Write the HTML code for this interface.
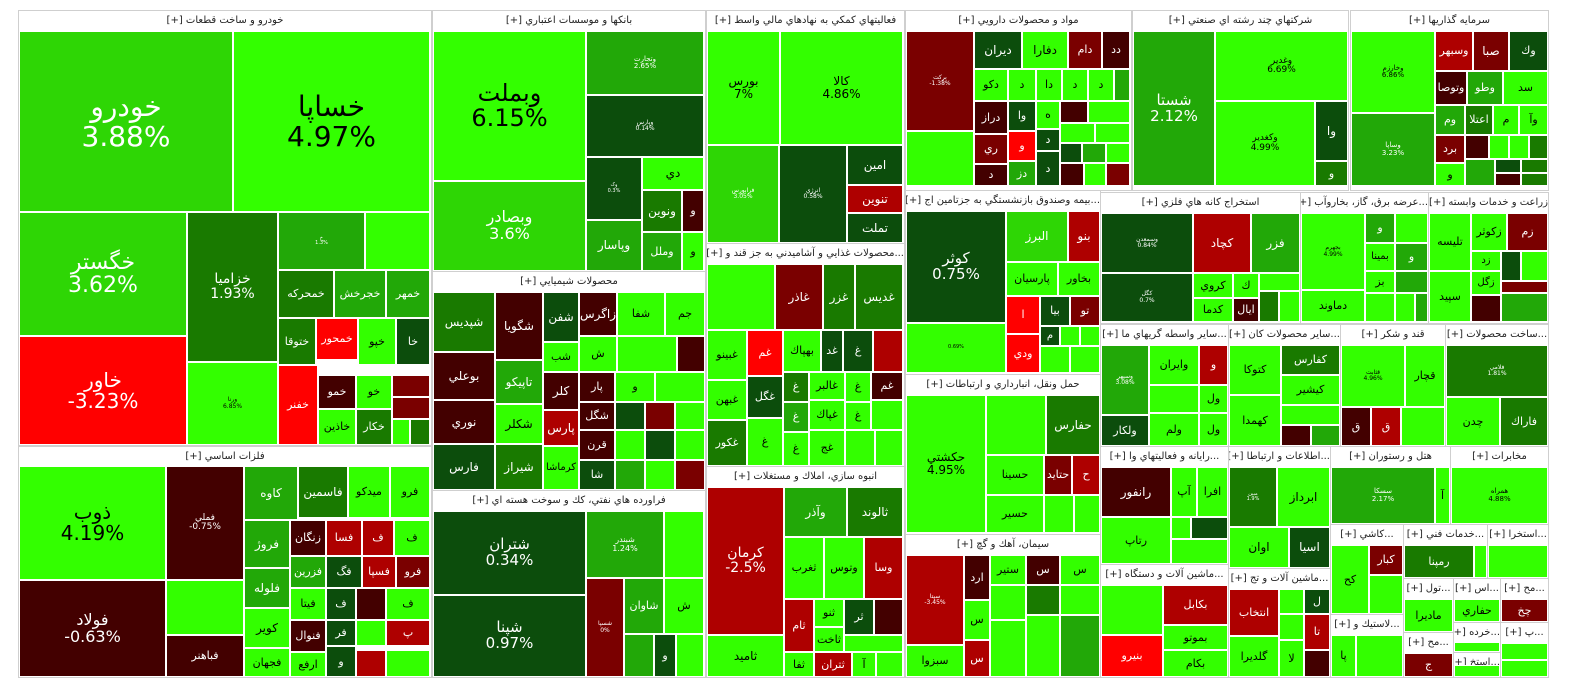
<!DOCTYPE html>
<html><head><meta charset="utf-8">
<style>
html,body{margin:0;padding:0;background:#fff;width:1584px;height:698px;overflow:hidden;font-family:"DejaVu Sans","Liberation Sans",sans-serif;}
#map{position:relative;width:1584px;height:698px;}
.sec{position:absolute;box-sizing:border-box;border:1px solid #cfcfcf;background:#fff;}
.hdr{position:absolute;left:0;right:0;top:0;height:19px;line-height:19px;font-size:10px;text-align:center;color:#222;white-space:nowrap;overflow:hidden;direction:rtl;}
.cell{position:absolute;box-sizing:border-box;border:1px solid #fff;display:flex;flex-direction:column;align-items:center;justify-content:center;text-align:center;overflow:hidden;line-height:1.05;white-space:nowrap;}
</style></head>
<body>
<div id="map"></div>
<script>
// sector frames: x, y, w, h, title
const sectorTitles = ["خودرو و ساخت قطعات [+]","فلزات اساسي [+]","بانكها و موسسات اعتباري [+]","محصولات شيميايي [+]","فراورده هاي نفتي، كك و سوخت هسته اي [+]","فعاليتهاي كمكي به نهادهاي مالي واسط [+]","...محصولات غذايي و آشاميدني به جز قند و [+]","انبوه سازي، املاك و مستغلات [+]","مواد و محصولات دارويي [+]","...بيمه وصندوق بازنشستگي به جزتامين اج [+]","حمل ونقل، انبارداري و ارتباطات [+]","سيمان، آهك و گچ [+]","شركتهاي چند رشته اي صنعتي [+]","سرمايه گذاريها [+]","استخراج كانه هاي فلزي [+]","...عرضه برق، گاز، بخاروآب [+]","زراعت و خدمات وابسته [+]","...ساير واسطه گريهاي ما [+]","...ساير محصولات كان [+]","قند و شكر [+]","...ساخت محصولات [+]","...رايانه و فعاليتهاي وا [+]","...اطلاعات و ارتباطا [+]","هتل و رستوران [+]","مخابرات [+]","...ماشين آلات و دستگاه [+]","...ماشين آلات و تج [+]","...كاشي [+]","...خدمات فني [+]","...استخرا [+]","...لاستيك و [+]","...تول [+]","...اس [+]","...مح [+]","...مح [+]","...خرده [+]","...استخ [+]","...پ [+]"];
const sectorBoxes = [[18,10,413,435],[18,446,413,231],[432,10,273,261],[432,271,273,219],[432,490,273,187],[706,10,198,233],[706,243,198,223],[706,466,198,211],[905,10,226,180],[905,190,195,184],[905,374,195,160],[905,534,195,143],[1132,10,216,180],[1350,10,198,180],[1100,192,200,131],[1300,192,128,131],[1428,192,120,131],[1100,324,128,122],[1228,324,112,122],[1340,324,105,122],[1445,324,103,122],[1100,446,128,118],[1228,446,102,122],[1330,446,120,78],[1450,446,98,78],[1100,564,128,113],[1228,568,102,109],[1330,524,73,90],[1403,524,84,54],[1487,524,61,54],[1330,614,73,63],[1403,578,50,54],[1453,578,47,44],[1500,578,48,44],[1403,632,50,45],[1453,622,47,30],[1453,652,47,25],[1500,622,48,55]];
// cells: x,y,w,h,symbol,percent,colour-class,font-size
const cells = [
[19,31,214,181,"خودرو","3.88%","g",28],[233,31,197,181,"خساپا","4.97%","G",28],
[19,212,168,124,"خگستر","3.62%","g",22],[19,336,168,109,"خاور","-3.23%","R",20],
[187,212,91,150,"خزاميا","1.93%","d",14],[187,362,91,83,"ورنا","6.85%","G",6],
[278,212,87,58,"خ","1.3%","m",5],[365,212,65,58,"","","G",5],
[278,270,56,48,"خمحركه","","d",11],[334,270,52,48,"خجرخش","","m",11],[386,270,44,48,"خمهر","","m",11],
[278,318,38,47,"ختوقا","","d",11],[316,318,42,42,"خمحور","","R",11],[358,318,38,47,"خپو","","G",11],[396,318,34,47,"خا","","D",11],
[278,365,40,80,"خفنر","","R",11],[318,375,38,34,"خمو","","K",11],[356,375,36,34,"خو","","G",11],[392,375,38,22,"","","k",9],[392,397,38,22,"","","k",9],
[318,409,38,36,"خاذين","","G",11],[356,409,36,36,"خكار","","d",11],[392,419,18,26,"","","G",9],[410,419,20,26,"","","d",9],
[19,466,147,114,"ذوب","4.19%","G",20],[19,580,147,97,"فولاد","-0.63%","K",16],
[166,466,78,114,"فملي","-0.75%","K",9],[166,580,78,55,"","","G",5],[166,635,78,42,"فباهنر","","K",11],
[244,466,54,54,"كاوه","","m",12],[298,466,50,52,"فاسمين","","d",12],[348,466,42,52,"ميدكو","","G",11],[390,466,40,52,"فرو","","G",11],
[244,520,46,48,"فروژ","","m",12],[244,568,46,40,"فلوله","","m",12],[244,608,46,40,"كوير","","G",12],[244,648,46,29,"فجهان","","G",11],
[290,520,36,36,"زنگان","","K",11],[326,520,36,36,"فسا","","r",11],[362,520,32,36,"ف","","r",11],[394,520,36,36,"ف","","G",11],
[290,556,36,32,"فزرين","","m",11],[326,556,36,32,"فگ","","D",11],[362,556,34,32,"فسپا","","r",11],[396,556,34,32,"فرو","","k",11],
[290,588,36,32,"فيتا","","G",11],[326,588,30,32,"ف","","D",11],[356,588,30,32,"","","K",9],[386,588,44,32,"ف","","G",11],
[290,620,36,32,"فنوال","","K",11],[326,620,30,26,"فر","","D",11],[356,620,30,26,"","","G",9],[386,620,44,26,"پ","","r",11],
[290,652,36,25,"ارفع","","G",11],[326,646,30,31,"و","","D",11],[356,650,30,27,"","","r",9],[386,650,44,27,"","","G",9],
[433,31,153,150,"وبملت","6.15%","G",24],[433,181,153,90,"وبصادر","3.6%","g",16],
[586,31,118,64,"وتجارت","2.65%","m",7],[586,95,118,62,"وپارس","0.14%","D",6],
[586,157,56,63,"وک","0.3%","D",5],[642,157,62,33,"دي","","G",12],[642,190,40,42,"ونوين","","d",12],[682,190,22,42,"و","","K",11],
[586,220,56,51,"وپاسار","","m",12],[642,232,40,39,"وملل","","m",11],[682,232,22,39,"و","","G",11],
[433,292,62,60,"شپديس","","d",12],[495,292,48,68,"شگويا","","K",12],[543,292,36,50,"شفن","","D",12],[579,292,38,44,"زاگرس","","K",12],[617,292,48,44,"شفا","","G",11],[665,292,40,44,"جم","","G",11],
[433,352,62,48,"بوعلي","","K",12],[495,360,48,44,"تاپيكو","","m",12],[543,342,36,30,"شب","","G",11],[579,336,38,36,"ش","","G",11],[617,336,60,36,"","","G",9],[677,336,28,36,"","","K",9],
[433,400,62,44,"نوري","","K",12],[495,404,48,40,"شكلر","","G",12],[543,372,36,38,"كلر","","K",12],[579,372,36,30,"پار","","K",11],[615,372,40,30,"و","","G",11],[655,372,50,30,"","","G",9],
[579,402,36,28,"شگل","","K",11],[615,402,30,28,"","","D",9],[645,402,30,28,"","","k",9],[675,402,30,28,"","","G",9],
[433,444,62,46,"فارس","","D",12],[495,444,48,46,"شيراز","","d",12],[543,410,36,36,"پارس","","r",12],[543,446,36,44,"كرماشا","","G",10],
[579,430,36,30,"قرن","","K",11],[579,460,36,30,"شا","","D",11],[615,430,30,30,"","","G",9],[645,430,30,30,"","","D",9],[675,430,30,30,"","","G",9],[615,460,30,30,"","","m",9],[645,460,30,30,"","","G",9],[675,460,30,30,"","","k",9],
[433,511,153,84,"شتران","0.34%","D",15],[433,595,153,82,"شپنا","0.97%","D",15],
[586,511,78,67,"شبندر","1.24%","m",8],[664,511,40,67,"","","G",9],
[586,578,38,99,"شسپا","0%","k",6],[624,578,40,56,"شاوان","","m",11],[664,578,40,56,"ش","","G",11],
[624,634,30,43,"","","m",9],[654,634,22,43,"و","","D",11],[676,634,28,43,"","","G",9],
[707,31,73,114,"بورس","7%","G",12],[780,31,123,114,"كالا","4.86%","G",12],
[707,145,72,98,"فرابورس","3.05%","g",6],[779,145,68,98,"انرژي","0.58%","D",6],
[847,145,56,40,"امين","","D",12],[847,185,56,28,"تنوين","","r",12],[847,213,56,30,"تملت","","D",12],
[707,264,68,66,"","","G",5],[775,264,48,66,"غاذر","","k",12],[823,264,32,66,"غزر","","d",12],[855,264,48,66,"غديس","","d",12],
[707,330,40,50,"غبينو","","G",11],[747,330,36,46,"غم","","R",11],[783,330,38,42,"بهپاك","","G",11],[821,330,22,42,"غد","","D",11],[843,330,30,42,"غ","","D",11],[873,330,30,42,"","","r",9],
[707,380,40,40,"غبهن","","G",11],[747,376,36,42,"غگل","","D",11],[783,372,26,30,"غ","","d",11],[809,372,36,28,"غالبر","","G",11],[845,372,26,30,"غ","","G",11],[871,372,32,28,"غم","","K",11],
[707,420,40,46,"غكور","","d",11],[747,418,36,48,"غ","","G",11],[783,402,26,30,"غ","","m",11],[809,400,36,30,"غپاك","","G",11],[845,402,26,28,"غ","","G",11],[871,400,32,30,"","","G",9],
[783,432,26,34,"غ","","G",11],[809,430,36,36,"غج","","G",11],[845,430,30,36,"","","G",9],[875,430,28,36,"","","G",9],
[707,487,77,148,"كرمان","-2.5%","r",14],[707,635,77,42,"ثاميد","","G",12],
[784,487,63,50,"وآذر","","m",12],[847,487,56,50,"ثالوند","","d",12],
[784,537,40,62,"ثغرب","","G",11],[824,537,40,62,"وتوس","","G",11],[864,537,39,62,"وسا","","r",11],
[784,599,30,53,"ثام","","r",11],[814,599,30,28,"ثنو","","G",11],[844,599,30,36,"ثر","","D",11],[874,599,29,36,"","","K",9],
[814,627,30,25,"ثاخت","","G",11],[844,635,59,17,"","","G",9],
[784,652,30,25,"ثفا","","G",11],[814,652,38,25,"ثتران","","r",11],[852,652,24,25,"آ","","G",11],[876,652,27,25,"","","G",9],
[906,31,68,100,"بركت","-1.38%","k",6],[906,131,68,55,"","","G",5],
[974,31,48,38,"ديران","","D",12],[1022,31,46,38,"دفارا","","G",12],[1068,31,34,38,"دام","","k",11],[1102,31,28,38,"دد","","K",11],
[974,69,34,32,"دكو","","G",11],[1008,69,28,32,"د","","G",11],[1036,69,26,32,"دا","","G",11],[1062,69,26,32,"د","","G",11],[1088,69,26,32,"د","","G",11],[1114,69,16,32,"","","m",9],
[974,101,34,33,"دراز","","K",11],[1008,101,28,30,"وا","","D",11],[1036,101,24,28,"ه","","G",11],[1060,101,28,22,"","","K",9],[1088,101,42,22,"","","G",9],
[974,134,34,30,"ري","","k",11],[1008,131,28,30,"و","","R",11],[1036,129,24,22,"د","","D",11],[1060,123,35,20,"","","G",9],[1095,123,35,20,"","","G",9],
[974,164,34,22,"د","","K",11],[1008,161,28,25,"دز","","m",11],[1036,151,24,35,"د","","D",11],[1060,143,22,20,"","","D",9],[1082,143,24,20,"","","m",9],[1106,143,24,20,"","","G",9],
[1060,163,24,23,"","","K",9],[1084,163,22,23,"","","G",9],[1106,163,24,23,"","","k",9],
[906,211,100,112,"كوثر","0.75%","D",15],[906,323,100,50,"","0.69%","G",5],
[1006,211,62,51,"البرز","","g",12],[1068,211,32,51,"بنو","","r",12],
[1006,262,52,34,"پارسيان","","G",11],[1058,262,42,34,"بخاور","","G",11],
[1006,296,34,38,"ا","","R",11],[1040,296,30,30,"بيا","","D",11],[1070,296,30,30,"تو","","k",11],
[1006,334,34,39,"ودي","","R",11],[1040,326,20,20,"م","","D",10],[1060,326,20,20,"","","G",9],[1080,326,20,20,"","","G",9],[1040,346,30,27,"","","G",9],[1070,346,30,27,"","","G",9],
[906,395,80,138,"حكشتي","4.95%","G",12],[986,395,60,60,"","","G",9],[1046,395,54,60,"حفارس","","d",12],
[986,455,58,40,"حسينا","","G",11],[1044,455,28,40,"حتايد","","k",11],[1072,455,28,40,"ح","","r",11],
[986,495,58,38,"حسير","","G",11],[1044,495,30,38,"","","G",9],[1074,495,26,38,"","","G",9],
[906,555,58,90,"سپتا","-3.45%","r",6],[906,645,58,32,"سبزوا","","G",11],
[964,555,26,45,"ارد","","K",11],[990,555,36,30,"ستير","","G",11],[1026,555,34,30,"س","","K",11],[1060,555,40,30,"س","","G",11],
[964,600,26,40,"س","","G",11],[990,585,36,35,"","","G",9],[1026,585,34,30,"","","d",9],[1060,585,40,30,"","","G",9],
[964,640,26,37,"س","","r",11],[990,620,36,57,"","","G",9],[1026,615,34,62,"","","G",9],[1060,615,40,62,"","","m",9],
[1133,31,82,155,"شستا","2.12%","m",15],[1215,31,133,70,"وغدير","6.69%","G",9],[1215,101,100,85,"وكغدير","4.99%","G",9],[1315,101,33,60,"وا","","D",12],[1315,161,33,25,"و","","d",11],
[1351,31,84,82,"وخارزم","6.86%","G",7],[1351,113,84,73,"وساپا","3.23%","m",7],
[1435,31,38,40,"وسبهر","","r",11],[1473,31,36,40,"صبا","","k",12],[1509,31,39,40,"وك","","D",11],
[1435,71,32,34,"وتوصا","","K",11],[1467,71,36,34,"وطو","","m",11],[1503,71,45,34,"سد","","G",11],
[1435,105,30,30,"وم","","m",11],[1465,105,28,30,"اعتلا","","d",11],[1493,105,26,30,"م","","G",11],[1519,105,29,30,"وآ","","G",11],
[1435,135,30,28,"برد","","k",11],[1465,135,24,24,"","","K",9],[1489,135,20,24,"","","G",9],[1509,135,20,24,"","","G",9],[1529,135,19,24,"","","d",9],
[1435,163,30,23,"و","","G",11],[1465,159,30,27,"","","m",9],[1495,159,26,14,"","","D",9],[1521,159,27,14,"","","d",9],[1495,173,26,13,"","","K",9],[1521,173,27,13,"","","d",9],
[1101,213,92,60,"وسمعدن","0.84%","D",6],[1101,273,92,49,"كگل","0.7%","D",6],
[1193,213,58,60,"كچاد","","r",12],[1251,213,49,60,"فزر","","m",12],
[1193,273,40,25,"كروي","","G",11],[1233,273,26,25,"ك","","G",11],[1259,273,41,18,"","","G",9],
[1193,298,40,24,"كدما","","G",11],[1233,298,26,24,"ايال","","K",11],[1259,291,20,31,"","","d",9],[1279,291,21,31,"","","G",9],
[1301,213,64,77,"بجهرم","4.99%","G",6],[1301,290,64,32,"دماوند","","G",11],
[1365,213,30,30,"و","","m",11],[1395,213,33,30,"","","G",9],[1365,243,30,28,"بمينا","","G",10],[1395,243,33,28,"و","","m",11],
[1365,271,30,22,"بز","","G",11],[1395,271,33,22,"","","m",9],[1365,293,30,29,"","","G",9],[1395,293,20,29,"","","G",9],[1415,293,13,29,"","","m",9],
[1429,213,42,58,"تليسه","","G",11],[1429,271,42,51,"سپيد","","G",11],
[1471,213,36,38,"زكوثر","","G",11],[1507,213,41,38,"زم","","k",11],
[1471,251,30,20,"زد","","G",10],[1501,251,20,30,"","","D",9],[1521,251,27,30,"","","G",9],
[1471,271,30,24,"زگل","","G",10],[1501,281,47,12,"","","k",9],[1471,295,30,27,"","","K",9],[1501,293,47,29,"","","m",9],
[1101,345,48,70,"وسپهر","3.08%","m",6],[1149,345,50,40,"وايران","","G",11],[1199,345,29,40,"و","","r",11],
[1149,385,50,28,"","","G",9],[1199,385,29,28,"ول","","G",11],[1101,415,48,31,"ولكار","","D",11],[1149,413,50,33,"ولم","","G",11],[1199,413,29,33,"ول","","G",11],
[1229,345,52,50,"كتوكا","","G",11],[1281,345,59,30,"كفارس","","d",11],[1281,375,59,30,"كيشير","","G",11],[1229,395,52,51,"كهمدا","","G",11],
[1281,405,59,20,"","","G",9],[1281,425,30,21,"","","K",9],[1311,425,29,21,"","","m",9],
[1341,345,64,62,"قثابت","4.96%","G",6],[1405,345,40,62,"قچار","","G",11],
[1341,407,30,39,"ق","","K",11],[1371,407,30,39,"ق","","r",11],[1401,407,44,39,"","","G",9],
[1446,345,102,52,"فلامي","1.81%","d",6],[1446,397,54,49,"چدن","","G",11],[1500,397,48,49,"فاراك","","d",11],
[1101,467,70,50,"رانفور","","K",12],[1171,467,26,50,"آپ","","G",11],[1197,467,31,50,"افرا","","G",11],
[1101,517,70,47,"رتاپ","","G",11],[1171,517,20,22,"","","G",9],[1191,517,37,22,"","","D",9],[1171,539,57,25,"","","G",9],
[1229,467,48,60,"مبين","1.9%","d",5],[1277,467,53,60,"ابرداز","","G",12],[1229,527,60,41,"اوان","","G",12],[1289,527,41,41,"اسيا","","D",12],
[1331,467,104,57,"سسكا","2.17%","m",7],[1435,467,15,57,"آ","","G",11],
[1451,467,97,57,"همراه","4.88%","G",7],
[1101,585,62,50,"","","G",9],[1163,585,65,40,"بكابل","","r",11],[1163,625,65,25,"بموتو","","G",11],[1101,635,62,42,"بنيرو","","R",11],[1163,650,65,27,"بكام","","G",11],
[1229,589,50,47,"انتخاب","","r",11],[1279,589,25,25,"","","G",9],[1304,589,26,25,"ل","","D",11],[1279,614,25,26,"","","G",9],[1304,614,26,36,"تا","","r",11],
[1229,636,50,41,"گلديرا","","G",11],[1279,640,25,37,"لا","","G",11],[1304,650,26,27,"","","K",9],
[1331,545,38,69,"كح","","G",11],[1369,545,34,30,"كبار","","k",11],[1369,575,34,39,"","","G",9],
[1404,545,70,33,"رمپنا","","d",11],[1474,545,13,33,"","","G",9],[1488,545,60,33,"","","G",9],
[1331,635,25,42,"پا","","G",11],[1356,635,47,42,"","","G",9],
[1404,599,49,33,"ماديرا","","G",11],[1454,599,46,23,"حفاري","","G",11],[1501,599,47,23,"چخ","","k",11],
[1404,653,49,24,"ج","","k",11],[1454,642,46,10,"","","G",9],[1454,665,46,12,"","","G",9],[1501,643,47,17,"","","G",9],[1501,660,47,17,"","","G",9]
];
const palette = {G:"#33ff00",g:"#2ed605",m:"#22a808",d:"#197a00",D:"#0c4d0c",R:"#ff0000",r:"#ae0000",k:"#7a0000",K:"#430000"};
const map = document.getElementById('map');
sectorBoxes.forEach((b,i)=>{
  const s=document.createElement('div');
  s.className='sec';
  s.style.cssText=`left:${b[0]}px;top:${b[1]}px;width:${b[2]+1}px;height:${b[3]+1}px`;
  
  
  const h=document.createElement('div');
  h.className='hdr';
  h.textContent=sectorTitles[i];
  
  
  s.appendChild(h);
  map.appendChild(s);
});
cells.forEach(c=>{
  const e=document.createElement('div');
  e.className='cell';
  const col=palette[c[6]];
  e.style.cssText=`left:${c[0]}px;top:${c[1]}px;width:${c[2]}px;height:${c[3]}px;background:${col};color:${c[6]==='G'?'#000':'#fff'};font-size:${c[7]}px`;
  
  
  if(c[4]){const a=document.createElement('div');a.textContent=c[4];a.style.direction='rtl';
    
    
    e.appendChild(a);}
  if(c[5]){const p=document.createElement('div');p.textContent=c[5];
    
    
    e.appendChild(p);}
  map.appendChild(e);
});
</script>
</body></html>
